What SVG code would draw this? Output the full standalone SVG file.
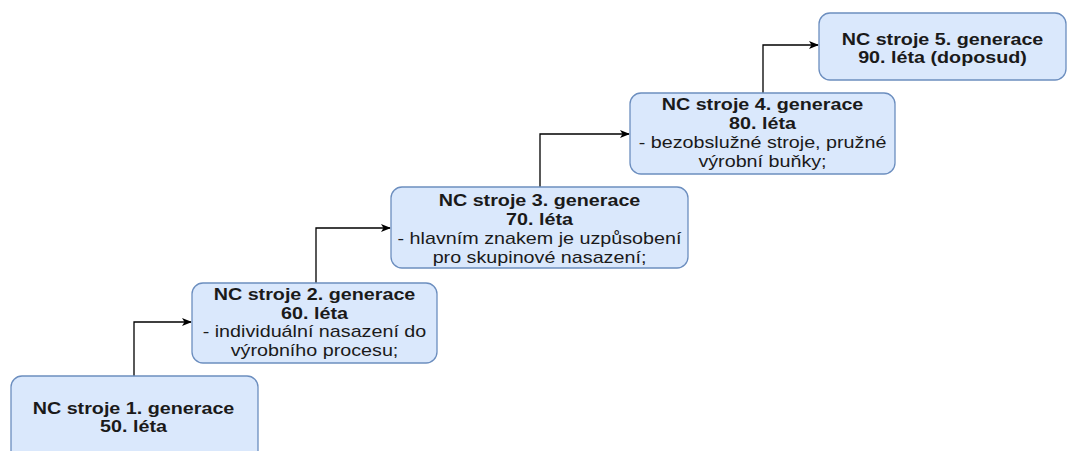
<svg xmlns="http://www.w3.org/2000/svg" width="1074" height="451" viewBox="0 0 1074 451">
<defs>
<style>
.box{fill:#dae8fc;stroke:#6c8ebf;stroke-width:1.3}
text{font-family:"Liberation Sans",Arial,sans-serif;font-size:17px;fill:#1a1a1a;text-anchor:middle}
.b{font-weight:bold}
.c{fill:none;stroke:#000;stroke-width:1.3}
</style>
<marker id="ah" markerWidth="10" markerHeight="10" refX="9" refY="5" orient="auto" markerUnits="userSpaceOnUse">
<path d="M0,1 L10,5 L0,9 L2.5,5 Z" fill="#000"/>
</marker>
</defs>
<rect width="1074" height="451" fill="#fff"/>
<g id="connectors">
<path class="c" d="M134,376 V322 H191" marker-end="url(#ah)"/>
<path class="c" d="M316,283 V228 H390" marker-end="url(#ah)"/>
<path class="c" d="M540,187 V134 H629" marker-end="url(#ah)"/>
<path class="c" d="M763,93 V45 H818" marker-end="url(#ah)"/>
</g>
<g id="n1">
<rect class="box" x="11" y="376" width="247" height="90" rx="11"/>
<g transform="translate(133.5,0) scale(1.16,1)">
<text class="b" x="0" y="414">NC stroje 1. generace</text>
<text class="b" x="0" y="432">50. léta</text>
</g>
</g>
<g id="n2">
<rect class="box" x="192" y="283" width="245" height="80" rx="11"/>
<g transform="translate(314.5,0) scale(1.16,1)">
<text class="b" x="0" y="300">NC stroje 2. generace</text>
<text class="b" x="0" y="319">60. léta</text>
<text x="0" y="337.5">- individuální nasazení do</text>
<text x="0" y="356">výrobního procesu;</text>
</g>
</g>
<g id="n3">
<rect class="box" x="391" y="187" width="297" height="81" rx="11"/>
<g transform="translate(539.5,0) scale(1.16,1)">
<text class="b" x="0" y="206">NC stroje 3. generace</text>
<text class="b" x="0" y="225">70. léta</text>
<text x="0" y="244.5">- hlavním znakem je uzpůsobení</text>
<text x="0" y="263.5">pro skupinové nasazení;</text>
</g>
</g>
<g id="n4">
<rect class="box" x="630" y="93" width="265" height="81" rx="11"/>
<g transform="translate(762.5,0) scale(1.16,1)">
<text class="b" x="0" y="110">NC stroje 4. generace</text>
<text class="b" x="0" y="129">80. léta</text>
<text x="0" y="148">- bezobslužné stroje, pružné</text>
<text x="0" y="167">výrobní buňky;</text>
</g>
</g>
<g id="n5">
<rect class="box" x="819" y="13" width="247" height="67" rx="11"/>
<g transform="translate(942.5,0) scale(1.16,1)">
<text class="b" x="0" y="45">NC stroje 5. generace</text>
<text class="b" x="0" y="63">90. léta (doposud)</text>
</g>
</g>
</svg>
